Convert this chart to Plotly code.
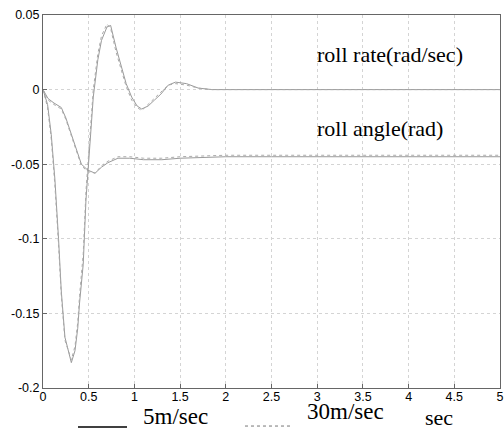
import plotly.graph_objects as go

# time axis (sec)
t_rate = [0, 0.05, 0.09, 0.13, 0.17, 0.2, 0.24, 0.31, 0.35, 0.38, 0.4, 0.44, 0.47, 0.52, 0.55,
          0.6, 0.64, 0.7, 0.74, 0.8, 0.86, 0.91, 0.97, 1.03, 1.08, 1.15, 1.22, 1.29, 1.37,
          1.45, 1.57, 1.7, 1.85, 2.0, 2.5, 3.0, 3.5, 4.0, 4.5, 5.0]
# roll rate (rad/sec) 5 m/sec
rate_5 = [0, -0.01, -0.03, -0.06, -0.1, -0.135, -0.166, -0.183, -0.175, -0.16, -0.143, -0.117,
          -0.074, -0.03, -0.005, 0.02, 0.033, 0.042, 0.043, 0.028, 0.015, 0.004, -0.005, -0.011,
          -0.013, -0.011, -0.007, -0.003, 0.003, 0.005, 0.004, 0.001, 0.0, 0.0, 0.0, 0.0, 0.0,
          0.0, 0.0, 0.0]
# roll rate (rad/sec) 30 m/sec
rate_30 = [0, -0.012, -0.033, -0.064, -0.104, -0.138, -0.168, -0.181, -0.172, -0.156, -0.138, -0.11,
           -0.068, -0.024, 0.0, 0.024, 0.036, 0.044, 0.041, 0.025, 0.012, 0.002, -0.007, -0.012,
           -0.014, -0.01, -0.006, -0.002, 0.003, 0.004, 0.003, 0.001, 0.0, 0.0, 0.0, 0.0, 0.0,
           0.0, 0.0, 0.0]

t_angle = [0, 0.055, 0.12, 0.2, 0.25, 0.31, 0.36, 0.42, 0.49, 0.57, 0.64, 0.71, 0.82, 0.95,
           1.1, 1.3, 1.5, 2.0, 2.5, 3.0, 3.5, 4.0, 4.5, 5.0]
# roll angle (rad) 5 m/sec
angle_5 = [0, -0.006, -0.009, -0.012, -0.019, -0.03, -0.039, -0.05, -0.054, -0.056, -0.052,
           -0.049, -0.046, -0.046, -0.047, -0.047, -0.046, -0.045, -0.045, -0.045, -0.045,
           -0.045, -0.045, -0.045]
# roll angle (rad) 30 m/sec
angle_30 = [0, -0.007, -0.01, -0.013, -0.02, -0.031, -0.04, -0.051, -0.055, -0.056, -0.051,
            -0.048, -0.045, -0.045, -0.046, -0.046, -0.045, -0.044, -0.044, -0.044, -0.044,
            -0.044, -0.044, -0.044]

x_ticks = [0, 0.5, 1, 1.5, 2, 2.5, 3, 3.5, 4, 4.5, 5]
x_tick_text = ["0", "0.5", "1", "1.5", "2", "2.5", "3", "3.5", "4", "4.5", "5"]
y_ticks = [0.05, 0, -0.05, -0.1, -0.15, -0.2]
y_tick_text = ["0.05", "0", "-0.05", "-0.1", "-0.15", "-0.2"]

curve_col = "#9a9a9a"
fig = go.Figure()
fig.add_trace(go.Scatter(x=t_rate, y=rate_5, mode="lines", line=dict(color=curve_col, width=1)))
fig.add_trace(go.Scatter(x=t_rate, y=rate_30, mode="lines", line=dict(color="#aaaaaa", width=1, dash="dot")))
fig.add_trace(go.Scatter(x=t_angle, y=angle_5, mode="lines", line=dict(color=curve_col, width=1)))
fig.add_trace(go.Scatter(x=t_angle, y=angle_30, mode="lines", line=dict(color="#aaaaaa", width=1, dash="dot")))

fig.update_layout(
    width=504, height=430,
    margin=dict(l=43, r=4, t=15, b=42),
    paper_bgcolor="white", plot_bgcolor="white",
    showlegend=False,
    font=dict(family="Liberation Sans, Arial", size=13, color="black"),
)
fig.update_xaxes(range=[0, 5], tickvals=x_ticks, ticktext=x_tick_text, automargin=False,
                 showgrid=True, gridcolor="#d4d4d4", griddash="dot", gridwidth=1,
                 showline=True, linecolor="#666", linewidth=1, mirror=True,
                 ticks="inside", ticklen=4, tickcolor="#666", zeroline=False,
                 ticklabelstandoff=-3, ticklabeloverflow="allow", tickfont=dict(size=12.5))
fig.update_yaxes(range=[-0.2, 0.05], tickvals=y_ticks, ticktext=y_tick_text, automargin=False,
                 showgrid=True, gridcolor="#d4d4d4", griddash="dot", gridwidth=1,
                 showline=True, linecolor="#666", linewidth=1, mirror=True,
                 ticks="inside", ticklen=4, tickcolor="#666", zeroline=False,
                 ticklabeloverflow="allow", tickfont=dict(size=12.5))

serif = "Liberation Serif, Times New Roman, serif"
fig.add_annotation(text="roll rate(rad/sec)", xref="paper", yref="paper", x=0.595, y=0.893,
                   xanchor="left", yanchor="middle", showarrow=False,
                   font=dict(family=serif, size=22, color="black"))
fig.add_annotation(text="roll angle(rad)", xref="paper", yref="paper", x=0.595, y=0.697,
                   xanchor="left", yanchor="middle", showarrow=False,
                   font=dict(family=serif, size=22, color="black"))
fig.add_annotation(text="5m/sec", xref="paper", yref="paper", x=0.289, y=-0.076,
                   xanchor="center", yanchor="middle", showarrow=False,
                   font=dict(family=serif, size=23, color="black"))
fig.add_annotation(text="30m/sec", xref="paper", yref="paper", x=0.663, y=-0.064,
                   xanchor="center", yanchor="middle", showarrow=False,
                   font=dict(family=serif, size=23, color="black"))
fig.add_annotation(text="sec", xref="paper", yref="paper", x=0.867, y=-0.08,
                   xanchor="center", yanchor="middle", showarrow=False,
                   font=dict(family=serif, size=22, color="black"))
# legend line samples
fig.add_shape(type="line", xref="paper", yref="paper", x0=0.0766, x1=0.1838, y0=-0.1046, y1=-0.1046,
              line=dict(color="black", width=1.5))
fig.add_shape(type="line", xref="paper", yref="paper", x0=0.442, x1=0.545, y0=-0.102, y1=-0.102,
              line=dict(color="#777", width=1, dash="dot"))

# remove the default page margin so the 504x430 figure fills the window exactly
fig.write_html("out.html", config={"displayModeBar": False},
               post_script="document.body.style.margin='0';")
